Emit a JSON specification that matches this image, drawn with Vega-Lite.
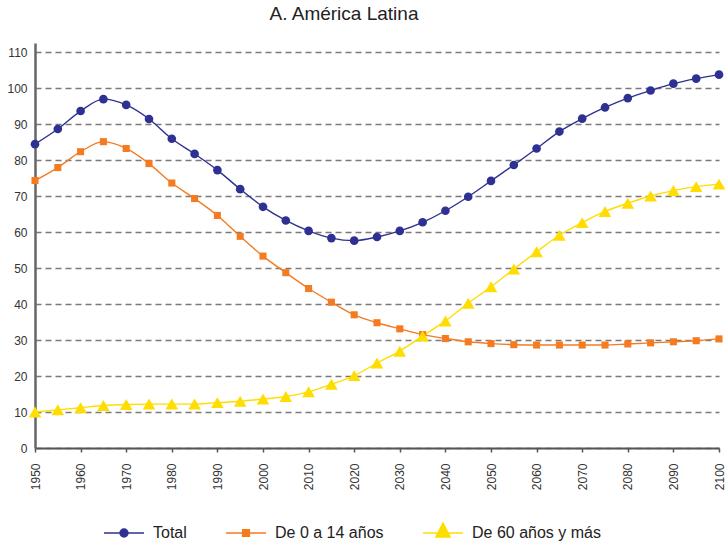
{
  "$schema": "https://vega.github.io/schema/vega-lite/v6.json",
  "autosize": "none",
  "width": 684,
  "height": 405,
  "padding": {"left": 35, "top": 43, "right": 7, "bottom": 94},
  "background": "white",
  "title": {"text": "A. América Latina", "fontSize": 19, "fontWeight": "normal", "font": "Liberation Sans", "color": "#222", "anchor": "middle", "dx": -33, "offset": 19},
  "datasets": {
    "pop": [
      {"year": 1950, "series": "Total", "value": 84.4}, {"year": 1955, "series": "Total", "value": 88.6}, {"year": 1960, "series": "Total", "value": 93.6}, {"year": 1965, "series": "Total", "value": 96.9}, {"year": 1970, "series": "Total", "value": 95.3}, {"year": 1975, "series": "Total", "value": 91.4}, {"year": 1980, "series": "Total", "value": 85.9}, {"year": 1985, "series": "Total", "value": 81.7}, {"year": 1990, "series": "Total", "value": 77.2}, {"year": 1995, "series": "Total", "value": 71.9}, {"year": 2000, "series": "Total", "value": 67.0}, {"year": 2005, "series": "Total", "value": 63.2}, {"year": 2010, "series": "Total", "value": 60.3}, {"year": 2015, "series": "Total", "value": 58.3}, {"year": 2020, "series": "Total", "value": 57.6}, {"year": 2025, "series": "Total", "value": 58.6}, {"year": 2030, "series": "Total", "value": 60.3}, {"year": 2035, "series": "Total", "value": 62.7}, {"year": 2040, "series": "Total", "value": 65.9}, {"year": 2045, "series": "Total", "value": 69.8}, {"year": 2050, "series": "Total", "value": 74.2}, {"year": 2055, "series": "Total", "value": 78.6}, {"year": 2060, "series": "Total", "value": 83.2}, {"year": 2065, "series": "Total", "value": 87.9}, {"year": 2070, "series": "Total", "value": 91.5}, {"year": 2075, "series": "Total", "value": 94.6}, {"year": 2080, "series": "Total", "value": 97.2}, {"year": 2085, "series": "Total", "value": 99.3}, {"year": 2090, "series": "Total", "value": 101.2}, {"year": 2095, "series": "Total", "value": 102.6}, {"year": 2100, "series": "Total", "value": 103.7},
      {"year": 1950, "series": "De 0 a 14 años", "value": 74.3}, {"year": 1955, "series": "De 0 a 14 años", "value": 77.9}, {"year": 1960, "series": "De 0 a 14 años", "value": 82.3}, {"year": 1965, "series": "De 0 a 14 años", "value": 85.1}, {"year": 1970, "series": "De 0 a 14 años", "value": 83.2}, {"year": 1975, "series": "De 0 a 14 años", "value": 79.0}, {"year": 1980, "series": "De 0 a 14 años", "value": 73.6}, {"year": 1985, "series": "De 0 a 14 años", "value": 69.3}, {"year": 1990, "series": "De 0 a 14 años", "value": 64.6}, {"year": 1995, "series": "De 0 a 14 años", "value": 58.8}, {"year": 2000, "series": "De 0 a 14 años", "value": 53.3}, {"year": 2005, "series": "De 0 a 14 años", "value": 48.7}, {"year": 2010, "series": "De 0 a 14 años", "value": 44.3}, {"year": 2015, "series": "De 0 a 14 años", "value": 40.5}, {"year": 2020, "series": "De 0 a 14 años", "value": 37.0}, {"year": 2025, "series": "De 0 a 14 años", "value": 34.8}, {"year": 2030, "series": "De 0 a 14 años", "value": 33.1}, {"year": 2035, "series": "De 0 a 14 años", "value": 31.5}, {"year": 2040, "series": "De 0 a 14 años", "value": 30.4}, {"year": 2045, "series": "De 0 a 14 años", "value": 29.5}, {"year": 2050, "series": "De 0 a 14 años", "value": 29.0}, {"year": 2055, "series": "De 0 a 14 años", "value": 28.7}, {"year": 2060, "series": "De 0 a 14 años", "value": 28.6}, {"year": 2065, "series": "De 0 a 14 años", "value": 28.6}, {"year": 2070, "series": "De 0 a 14 años", "value": 28.6}, {"year": 2075, "series": "De 0 a 14 años", "value": 28.6}, {"year": 2080, "series": "De 0 a 14 años", "value": 28.9}, {"year": 2085, "series": "De 0 a 14 años", "value": 29.2}, {"year": 2090, "series": "De 0 a 14 años", "value": 29.5}, {"year": 2095, "series": "De 0 a 14 años", "value": 29.8}, {"year": 2100, "series": "De 0 a 14 años", "value": 30.3},
      {"year": 1950, "series": "De 60 años y más", "value": 10.0}, {"year": 1955, "series": "De 60 años y más", "value": 10.6}, {"year": 1960, "series": "De 60 años y más", "value": 11.2}, {"year": 1965, "series": "De 60 años y más", "value": 11.8}, {"year": 1970, "series": "De 60 años y más", "value": 12.1}, {"year": 1975, "series": "De 60 años y más", "value": 12.2}, {"year": 1980, "series": "De 60 años y más", "value": 12.2}, {"year": 1985, "series": "De 60 años y más", "value": 12.2}, {"year": 1990, "series": "De 60 años y más", "value": 12.6}, {"year": 1995, "series": "De 60 años y más", "value": 13.0}, {"year": 2000, "series": "De 60 años y más", "value": 13.6}, {"year": 2005, "series": "De 60 años y más", "value": 14.3}, {"year": 2010, "series": "De 60 años y más", "value": 15.6}, {"year": 2015, "series": "De 60 años y más", "value": 17.7}, {"year": 2020, "series": "De 60 años y más", "value": 20.1}, {"year": 2025, "series": "De 60 años y más", "value": 23.6}, {"year": 2030, "series": "De 60 años y más", "value": 26.9}, {"year": 2035, "series": "De 60 años y más", "value": 31.1}, {"year": 2040, "series": "De 60 años y más", "value": 35.3}, {"year": 2045, "series": "De 60 años y más", "value": 40.2}, {"year": 2050, "series": "De 60 años y más", "value": 44.8}, {"year": 2055, "series": "De 60 años y más", "value": 49.7}, {"year": 2060, "series": "De 60 años y más", "value": 54.5}, {"year": 2065, "series": "De 60 años y más", "value": 59.1}, {"year": 2070, "series": "De 60 años y más", "value": 62.6}, {"year": 2075, "series": "De 60 años y más", "value": 65.7}, {"year": 2080, "series": "De 60 años y más", "value": 68.0}, {"year": 2085, "series": "De 60 años y más", "value": 70.0}, {"year": 2090, "series": "De 60 años y más", "value": 71.5}, {"year": 2095, "series": "De 60 años y más", "value": 72.6}, {"year": 2100, "series": "De 60 años y más", "value": 73.3}
    ]
  },
  "data": {"name": "pop"},
  "encoding": {
    "x": {"field": "year", "type": "quantitative", "scale": {"domain": [1950, 2100], "nice": false, "zero": false},
      "axis": {"title": null, "values": [1950, 1960, 1970, 1980, 1990, 2000, 2010, 2020, 2030, 2040, 2050, 2060, 2070, 2080, 2090, 2100], "format": "d", "labelAngle": -90, "grid": false, "ticks": true, "tickSize": 4, "tickColor": "#555", "tickWidth": 1.5, "labelPadding": 11, "labelFontSize": 12, "domainColor": "#555", "domainWidth": 2}},
    "y": {"field": "value", "type": "quantitative", "scale": {"domain": [0, 112.5], "nice": false},
      "axis": {"title": null, "values": [0, 10, 20, 30, 40, 50, 60, 70, 80, 90, 100, 110], "grid": true, "gridDash": [6, 4], "gridColor": "#7a7a7a", "gridWidth": 1.5, "ticks": false, "labelPadding": 8, "labelFontSize": 12, "domainColor": "#666", "domainWidth": 2.5}}
  },
  "layer": [
    {
      "transform": [{"filter": "datum.series === 'Total'"}],
      "mark": {"type": "line", "strokeWidth": 1.4, "interpolate": "monotone", "color": "#2E3192"}
    },
    {
      "transform": [{"filter": "datum.series === 'De 0 a 14 años'"}],
      "mark": {"type": "line", "strokeWidth": 1.4, "interpolate": "monotone", "color": "#F47B20"}
    },
    {
      "transform": [{"filter": "datum.series === 'De 60 años y más'"}],
      "mark": {"type": "line", "strokeWidth": 1.4, "interpolate": "monotone", "color": "#FFDD00"}
    },
    {
      "transform": [{"filter": "datum.series === 'Total'"}],
      "mark": {"type": "point", "shape": "circle", "filled": true, "opacity": 1, "size": 75, "color": "#2E3192"}
    },
    {
      "transform": [{"filter": "datum.series === 'De 0 a 14 años'"}],
      "mark": {"type": "point", "shape": "square", "filled": true, "opacity": 1, "size": 50, "color": "#F47B20"}
    },
    {
      "transform": [{"filter": "datum.series === 'De 60 años y más'"}],
      "mark": {"type": "point", "shape": "triangle-up", "filled": true, "opacity": 1, "size": 160, "color": "#FFDD00"}
    },
    {
      "transform": [{"filter": "datum.year === 1950"}],
      "mark": {"type": "point", "filled": true, "opacity": 0},
      "encoding": {
        "color": {"field": "series", "type": "nominal",
          "scale": {"domain": ["Total", "De 0 a 14 años", "De 60 años y más"], "range": ["#2E3192", "#F47B20", "#FFDD00"]},
          "legend": {"title": null, "orient": "none", "legendX": 68, "legendY": 469, "direction": "horizontal", "symbolSize": 1600, "symbolStrokeWidth": 1.4, "symbolOpacity": 1, "labelFontSize": 16, "labelColor": "#222", "labelFont": "Liberation Sans", "labelOffset": 8, "columnPadding": 36,
            "encode": {"symbols": {"update": {"opacity": {"value": 1}, "fillOpacity": {"value": 1}, "strokeOpacity": {"value": 1}, "stroke": {"scale": "color", "field": "value"}, "fill": {"scale": "color", "field": "value"}}}}}},
        "shape": {"field": "series", "type": "nominal",
          "scale": {"domain": ["Total", "De 0 a 14 años", "De 60 años y más"],
            "range": ["M-1,0H1M-0.2,0A0.2,0.2,0,1,0,0.2,0A0.2,0.2,0,1,0,-0.2,0Z", "M-1,0H1M-0.17,-0.17H0.17V0.17H-0.17Z", "M-1,0H1M0,-0.5L0.36,0.2H-0.36Z"]},
          "legend": {"title": null, "orient": "none", "legendX": 68, "legendY": 469, "direction": "horizontal", "symbolSize": 1600, "symbolStrokeWidth": 1.4, "symbolOpacity": 1, "labelFontSize": 16, "labelColor": "#222", "labelFont": "Liberation Sans", "labelOffset": 8, "columnPadding": 36}
        }
      }
    }
  ],
  "config": {
    "view": {"stroke": null},
    "axis": {"labelFont": "Liberation Sans", "labelColor": "#333"}
  }
}
